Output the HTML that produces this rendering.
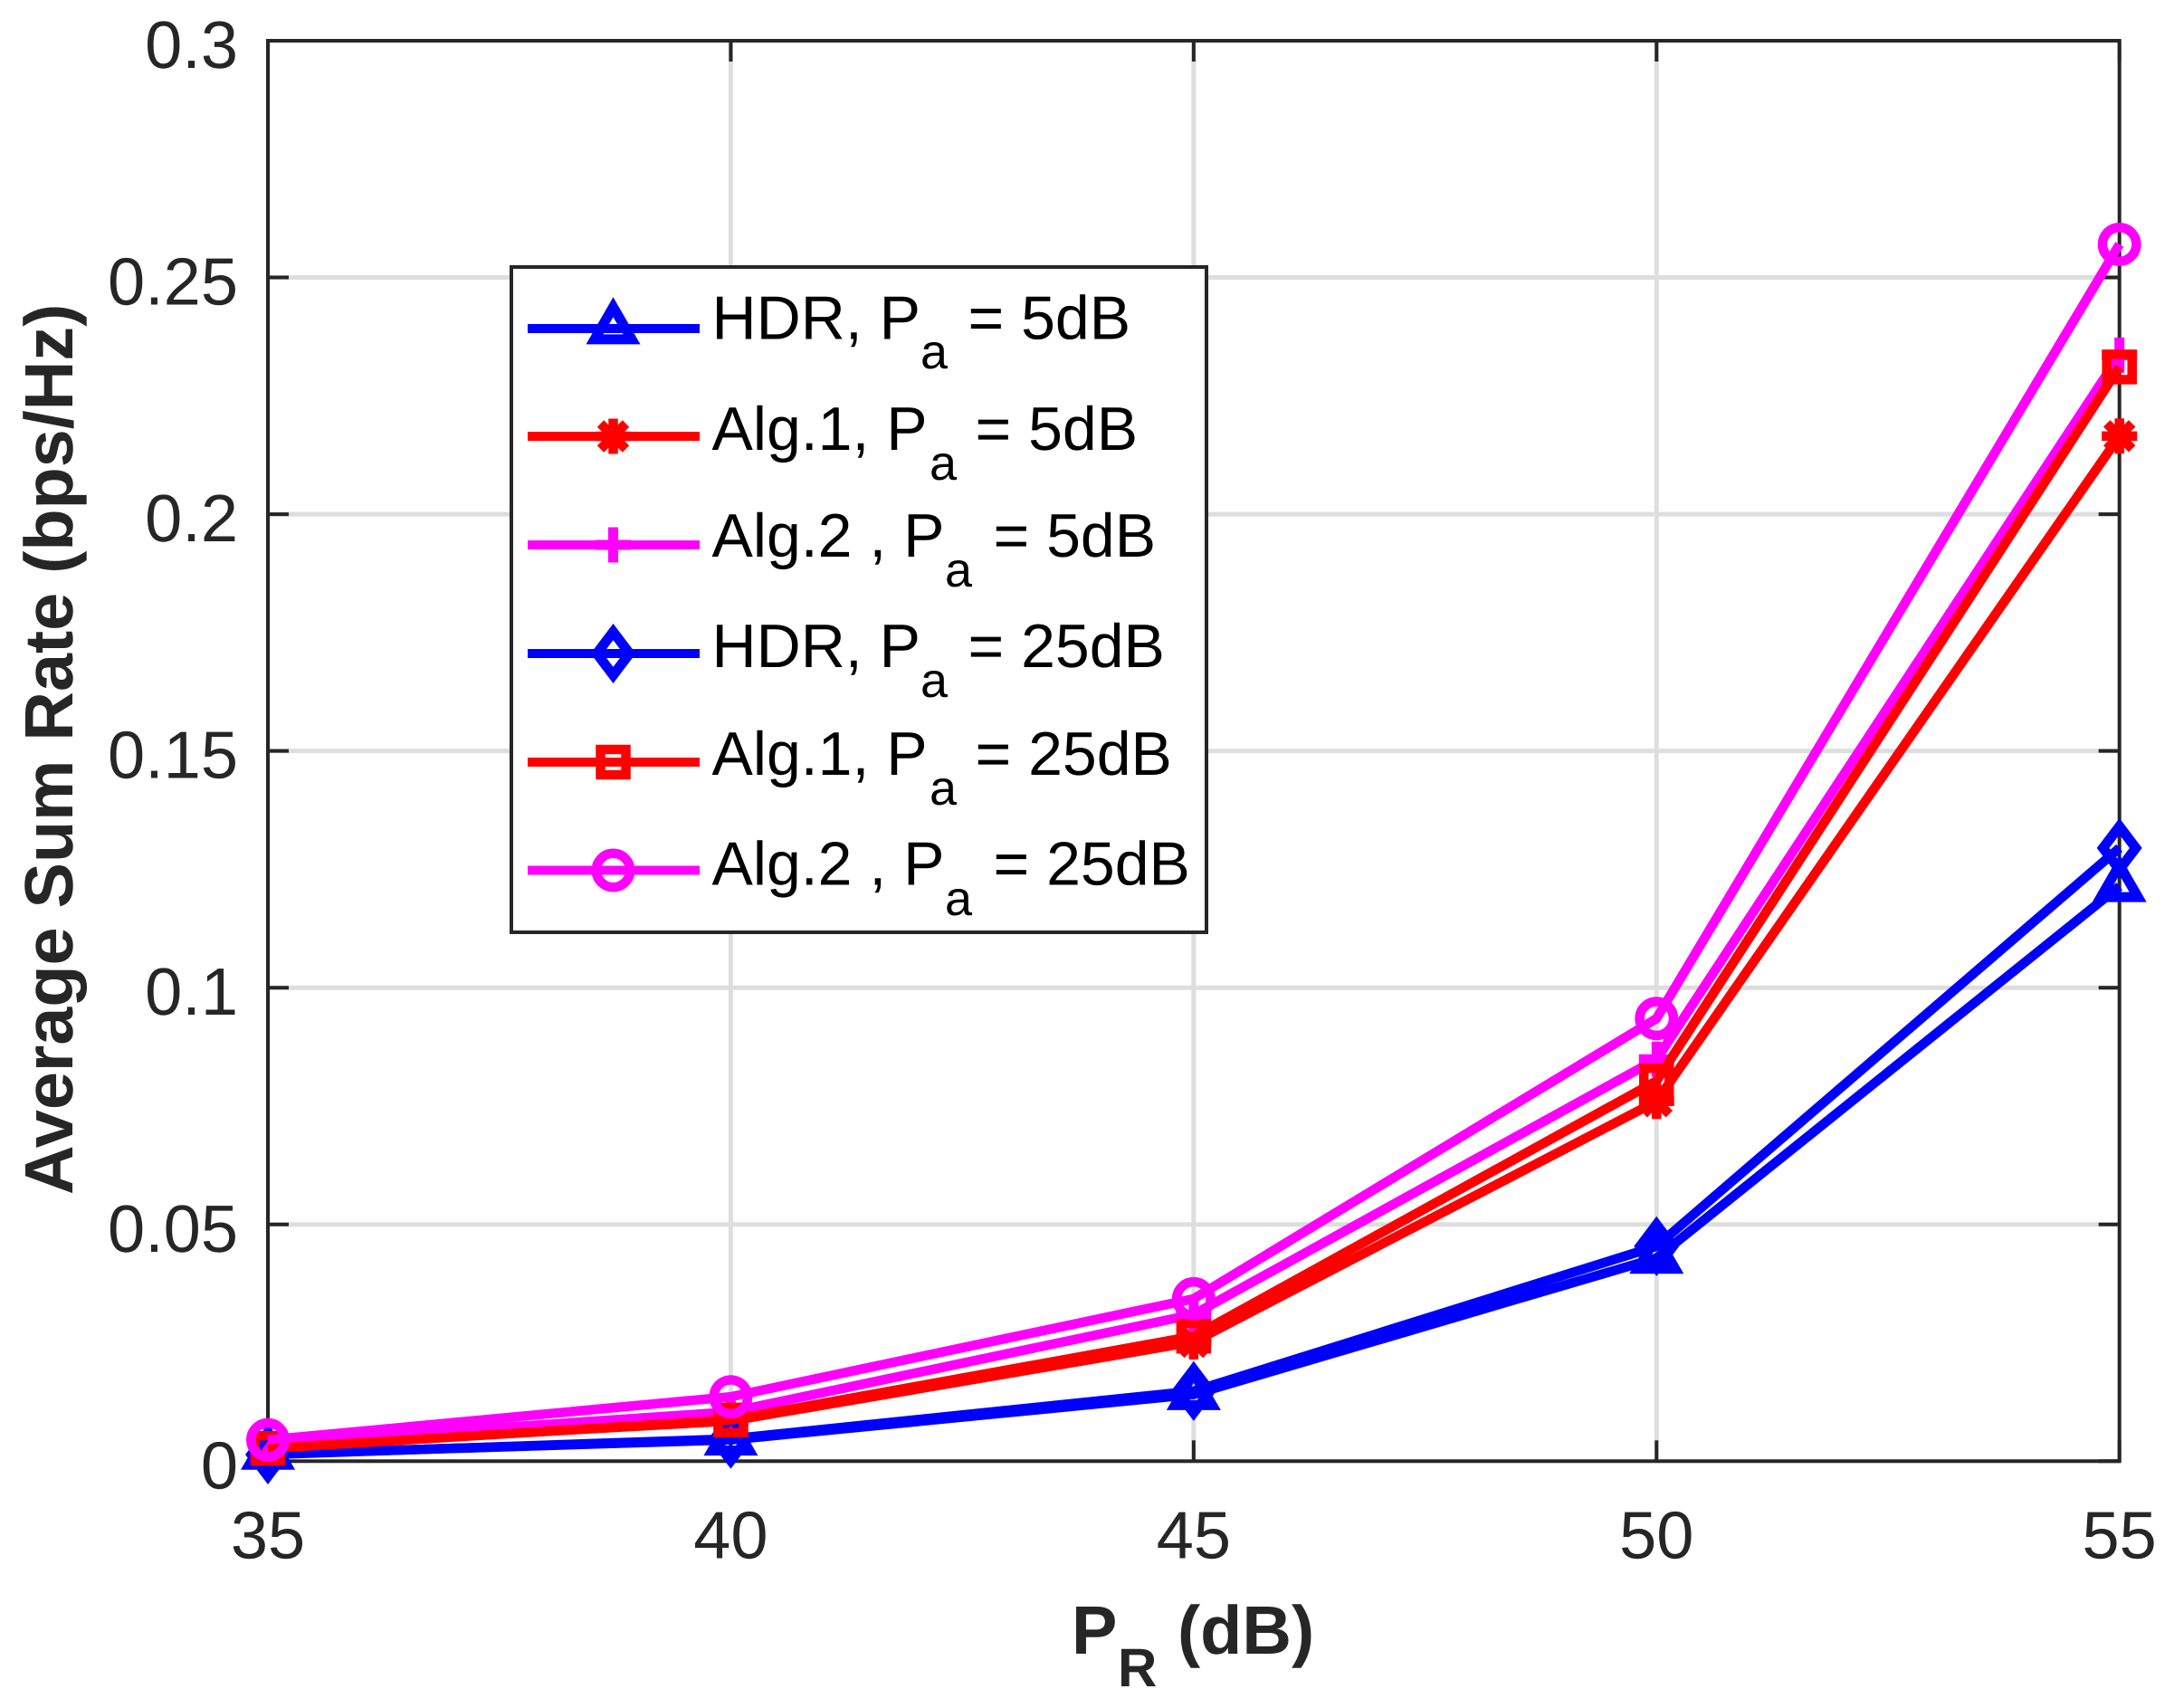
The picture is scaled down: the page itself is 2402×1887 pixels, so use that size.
<!DOCTYPE html>
<html>
<head>
<meta charset="utf-8">
<title>Average Sum Rate vs PR</title>
<style>
html,body{margin:0;padding:0;background:#fff;}
svg{display:block;}
text{font-family:"Liberation Sans",Arial,sans-serif;text-rendering:geometricPrecision;}
.tick{font-size:74px;fill:#262626;}
.lg{font-size:68px;fill:#000;}
.lgs{font-size:54px;fill:#000;}
.ax{font-size:75.6px;font-weight:bold;fill:#262626;}
</style>
</head>
<body>
<svg id="chart" xmlns="http://www.w3.org/2000/svg" width="2402" height="1887" viewBox="0 0 2402 1887">
<rect x="0" y="0" width="2402" height="1887" fill="#fff"/>
<g id="grid"></g>
<g id="axes"></g>
<g id="series"></g>
<g id="tickLabels"></g>

<text class="ax" transform="translate(80 1320) rotate(-90)" x="0" y="0">Average Sum Rate (bps/Hz)</text>
<g>
  <text class="ax" x="1184" y="1827">P</text>
  <text class="ax" style="font-size:60px" x="1235" y="1863">R</text>
  <text class="ax" x="1301" y="1827">(dB)</text>
</g>

<g id="legend">
  <rect x="565" y="295" width="768" height="735" fill="#fff" stroke="#262626" stroke-width="4"/>
  <g id="legendKeys"></g>
  <g>
    <text class="lg" x="786.5" y="374.5">HDR, P</text><text class="lgs" x="1017" y="407">a</text><text class="lg" x="1069.5" y="374.5">= 5dB</text>
  </g>
  <g>
    <text class="lg" x="786.5" y="497">Alg.1, P</text><text class="lgs" x="1027" y="530">a</text><text class="lg" x="1077.5" y="497">= 5dB</text>
  </g>
  <g>
    <text class="lg" x="786.5" y="615">Alg.2 , P</text><text class="lgs" x="1044" y="648">a</text><text class="lg" x="1097.5" y="615">= 5dB</text>
  </g>
  <g>
    <text class="lg" x="786.5" y="737">HDR, P</text><text class="lgs" x="1017" y="770">a</text><text class="lg" x="1069.5" y="737">= 25dB</text>
  </g>
  <g>
    <text class="lg" x="786.5" y="856">Alg.1, P</text><text class="lgs" x="1027" y="889">a</text><text class="lg" x="1077.5" y="856">= 25dB</text>
  </g>
  <g>
    <text class="lg" x="786.5" y="977.5">Alg.2 , P</text><text class="lgs" x="1044" y="1011">a</text><text class="lg" x="1097.5" y="977.5">= 25dB</text>
  </g>
</g>
</svg>

<script>
const xValues = [35, 40, 45, 50, 55];
const yTicks = [0, 0.05, 0.1, 0.15, 0.2, 0.25, 0.3];
const yTickLabels = ['0', '0.05', '0.1', '0.15', '0.2', '0.25', '0.3'];
const xTickLabels = ['35', '40', '45', '50', '55'];

const hdr5 = [0.0015, 0.0045, 0.0141, 0.0429, 0.1214];
const alg1p5 = [0.0030, 0.0085, 0.0252, 0.0760, 0.2165];
const alg2p5 = [0.0038, 0.0104, 0.0310, 0.0849, 0.2336];
const hdr25 = [0.0014, 0.0047, 0.0148, 0.0454, 0.1295];
const alg1p25 = [0.0027, 0.0087, 0.0264, 0.0803, 0.2311];
const alg2p25 = [0.0045, 0.0136, 0.0343, 0.0935, 0.2570];

const seriesNames = ['hdr-5db', 'alg1-5db', 'alg2-5db', 'hdr-25db', 'alg1-25db', 'alg2-25db'];
const seriesValues = [hdr5, alg1p5, alg2p5, hdr25, alg1p25, alg2p25];
const seriesColors = ['#0000ff', '#ff0000', '#ff00ff', '#0000ff', '#ff0000', '#ff00ff'];
const seriesMarkers = ['triangle', 'star', 'plus', 'diamond', 'square', 'circle'];

const NS = 'http://www.w3.org/2000/svg';
const L = 296, R = 2341.7, T = 45, B = 1614.3;
const xMin = 35, xMax = 55, yMin = 0, yMax = 0.3;
function xs(v) { return L + (v - xMin) / (xMax - xMin) * (R - L); }
function ys(v) { return B - (v - yMin) / (yMax - yMin) * (B - T); }

function mk(tag, attrs, parent) {
  const el = document.createElementNS(NS, tag);
  for (const k in attrs) el.setAttribute(k, attrs[k]);
  parent.appendChild(el);
  return el;
}

function drawMarker(parent, type, cx, cy, color) {
  const g = mk('g', {transform: 'translate(' + cx + ' ' + cy + ')', fill: 'none', stroke: color, 'stroke-miterlimit': 20}, parent);
  
  
  if (type === 'triangle') {
    mk('path', {d: 'M0 -23.7 L20.5 11.85 L-20.5 11.85 Z', 'stroke-width': 11}, g);
  } else if (type === 'diamond') {
    mk('path', {d: 'M0 -23.9 L18.1 0 L0 23.9 L-18.1 0 Z', 'stroke-width': 11}, g);
  } else if (type === 'square') {
    mk('rect', {x: -14, y: -14, width: 28, height: 28, 'stroke-width': 10.5}, g);
  } else if (type === 'circle') {
    mk('circle', {cx: 0, cy: 0, r: 18.7, 'stroke-width': 10.5}, g);
  } else if (type === 'plus') {
    mk('path', {d: 'M0 -19.5 V19.5 M-19.5 0 H19.5', 'stroke-width': 11}, g);
  } else if (type === 'star') {
    mk('path', {d: 'M0 -19.5 V19.5 M-19.5 0 H19.5 M-14 -14 L14 14 M-14 14 L14 -14', 'stroke-width': 10.5}, g);
  }
}

const gridG = document.getElementById('grid');
const axesG = document.getElementById('axes');
const seriesG = document.getElementById('series');
const labelsG = document.getElementById('tickLabels');
const keysG = document.getElementById('legendKeys');

xValues.forEach(function (v, i) {
  const x = xs(v);
  if (i > 0 && i < xValues.length - 1) {
    const gl = mk('line', {x1: x, x2: x, y1: T, y2: B, stroke: '#dedede', 'stroke-width': 5}, gridG);
    
    
  }
  const t1 = mk('line', {x1: x, x2: x, y1: B, y2: B - 23, stroke: '#262626', 'stroke-width': 4}, axesG);
  
  
  const t2 = mk('line', {x1: x, x2: x, y1: T, y2: T + 23, stroke: '#262626', 'stroke-width': 4}, axesG);
  
  
  const lab = mk('text', {x: x, y: 1721.5, 'text-anchor': 'middle', class: 'tick'}, labelsG);
  
  
  lab.textContent = xTickLabels[i];
});

yTicks.forEach(function (v, i) {
  const y = ys(v);
  if (i > 0 && i < yTicks.length - 1) {
    const gl = mk('line', {x1: L, x2: R, y1: y, y2: y, stroke: '#dedede', 'stroke-width': 5}, gridG);
    
    
  }
  const t1 = mk('line', {x1: L, x2: L + 23, y1: y, y2: y, stroke: '#262626', 'stroke-width': 4}, axesG);
  
  
  const t2 = mk('line', {x1: R, x2: R - 23, y1: y, y2: y, stroke: '#262626', 'stroke-width': 4}, axesG);
  
  
  const lab = mk('text', {x: 263, y: y + 30, 'text-anchor': 'end', class: 'tick'}, labelsG);
  
  
  lab.textContent = yTickLabels[i];
});

const frame = mk('rect', {x: L, y: T, width: R - L, height: B - T, fill: 'none', stroke: '#262626', 'stroke-width': 4}, axesG);



seriesValues.forEach(function (vals, s) {
  const g = mk('g', {}, seriesG);
  
  
  const pts = vals.map(function (v, i) { return xs(xValues[i]) + ',' + ys(v); }).join(' ');
  const line = mk('polyline', {points: pts, fill: 'none', stroke: seriesColors[s], 'stroke-width': 10.5, 'stroke-linejoin': 'round'}, g);
  
  
  vals.forEach(function (v, i) {
    drawMarker(g, seriesMarkers[s], xs(xValues[i]), ys(v), seriesColors[s]);
  });
});

const legendRowY = [363, 482, 602, 722, 842, 961.5];
seriesNames.forEach(function (name, s) {
  const y = legendRowY[s];
  const k = mk('line', {x1: 583, x2: 773, y1: y, y2: y, stroke: seriesColors[s], 'stroke-width': 10}, keysG);
  
  
  drawMarker(keysG, seriesMarkers[s], 677.5, y, seriesColors[s]);
});
</script>
</body>
</html>
